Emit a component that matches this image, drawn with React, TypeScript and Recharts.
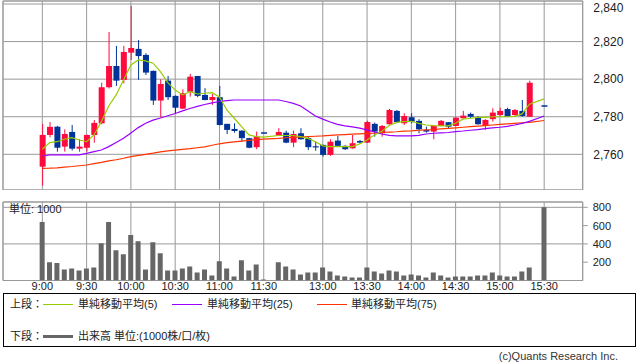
import React from 'react';
import {
  ComposedChart, Bar, Line, XAxis, YAxis, CartesianGrid, ReferenceArea,
} from 'recharts';

const FONT = '"Liberation Sans", "Noto Sans CJK JP", sans-serif';
const UP = '#ff0a3c';
const DOWN = '#003399';
const GRID = '#999999';

// 5-minute slots; the empty label is the lunch-break slot
const TIMES = [
  '9:00', '9:05', '9:10', '9:15', '9:20', '9:25', '9:30', '9:35', '9:40', '9:45',
  '9:50', '9:55', '10:00', '10:05', '10:10', '10:15', '10:20', '10:25', '10:30', '10:35',
  '10:40', '10:45', '10:50', '10:55', '11:00', '11:05', '11:10', '11:15', '11:20', '11:25',
  '11:30', '', '12:30', '12:35', '12:40', '12:45', '12:50', '12:55', '13:00', '13:05',
  '13:10', '13:15', '13:20', '13:25', '13:30', '13:35', '13:40', '13:45', '13:50', '13:55',
  '14:00', '14:05', '14:10', '14:15', '14:20', '14:25', '14:30', '14:35', '14:40', '14:45',
  '14:50', '14:55', '15:00', '15:05', '15:10', '15:15', '15:20', '15:25', '15:30',
];
const TICK_IDX = [0, 6, 12, 18, 24, 30, 38, 44, 50, 56, 62, 68];

const OPEN = [
  2753.4, 2770.3, 2774.7, 2764.1, 2771.9, 2763.0, 2763.5, 2770.3, 2776.5, 2795.7,
  2807.0, 2799.6, 2814.1, 2816.1, 2812.9, 2804.4, 2788.6, 2799.2, 2791.1, 2784.3,
  2793.3, 2801.7, 2791.6, 2788.9, 2790.4, 2776.2, 2773.5, 2772.6, 2768.6, 2763.8,
  2771.3, null, 2769.9, 2771.5, 2766.2, 2771.2, 2768.6, 2764.3, 2765.0, 2759.7,
  2767.3, 2764.5, 2763.2, 2767.1, 2766.2, 2776.2, 2771.2, 2776.0, 2783.1, 2776.5,
  2779.7, 2777.8, 2773.0, 2772.1, 2775.1, 2777.1, 2775.1, 2779.2, 2781.5, 2779.7,
  2775.1, 2778.7, 2780.9, 2784.1, 2780.9, 2783.1, 2780.0, null, 2785.7,
];
const HIGH = [
  2776.2, 2777.2, 2775.1, 2773.3, 2775.6, 2768.0, 2770.5, 2778.3, 2798.1, 2825.1,
  2817.7, 2817.7, 2839.0, 2820.8, 2813.8, 2804.6, 2799.9, 2801.7, 2791.3, 2794.6,
  2802.8, 2801.7, 2795.2, 2792.1, 2796.4, 2776.2, 2776.5, 2772.8, 2768.8, 2772.1,
  2771.3, null, 2773.9, 2772.6, 2772.6, 2773.9, 2769.4, 2766.7, 2765.2, 2768.0,
  2769.8, 2764.8, 2770.3, 2767.6, 2777.9, 2776.9, 2775.6, 2784.1, 2783.6, 2781.9,
  2781.9, 2778.7, 2774.7, 2775.2, 2778.3, 2777.2, 2779.7, 2783.1, 2782.2, 2780.4,
  2778.7, 2784.5, 2784.8, 2784.8, 2784.1, 2788.9, 2799.2, null, 2785.7,
];
const LOW = [
  2743.3, 2769.0, 2761.4, 2761.4, 2762.0, 2761.4, 2761.4, 2766.2, 2776.0, 2795.0,
  2796.4, 2797.8, 2810.2, 2799.6, 2802.2, 2786.3, 2779.7, 2788.9, 2781.9, 2784.0,
  2790.7, 2790.4, 2788.7, 2786.3, 2775.4, 2770.8, 2771.5, 2766.7, 2763.2, 2762.7,
  2771.3, null, 2769.7, 2765.9, 2763.8, 2767.8, 2762.3, 2761.9, 2758.8, 2759.2,
  2764.3, 2762.3, 2763.0, 2765.7, 2766.0, 2769.4, 2769.4, 2775.8, 2776.5, 2775.6,
  2776.5, 2771.2, 2771.5, 2768.0, 2775.0, 2773.9, 2775.0, 2779.0, 2779.2, 2775.8,
  2773.0, 2777.4, 2780.4, 2779.9, 2780.4, 2780.0, 2779.9, null, 2785.7,
];
const CLOSE = [
  2770.3, 2774.6, 2763.5, 2770.8, 2763.0, 2764.1, 2770.3, 2776.7, 2795.7, 2807.0,
  2799.2, 2814.5, 2816.6, 2812.3, 2803.5, 2788.6, 2797.4, 2790.4, 2784.8, 2792.5,
  2801.3, 2791.1, 2788.9, 2790.5, 2775.6, 2773.0, 2772.4, 2768.6, 2763.5, 2769.4,
  2771.3, null, 2771.9, 2766.2, 2770.8, 2768.0, 2763.8, 2764.0, 2759.7, 2766.7,
  2764.5, 2762.7, 2765.9, 2766.2, 2777.2, 2772.1, 2775.1, 2783.6, 2777.1, 2780.4,
  2777.4, 2773.3, 2772.1, 2775.1, 2777.8, 2774.7, 2779.5, 2780.6, 2780.0, 2776.0,
  2778.3, 2782.2, 2783.1, 2780.0, 2783.6, 2780.4, 2798.1, null, 2785.7,
];

const MA5 = [
  2762.7, 2766.2, 2766.7, 2768.0, 2768.9, 2767.6, 2766.7, 2770.3, 2777.4, 2785.7,
  2791.6, 2799.6, 2807.6, 2810.2, 2809.7, 2808.5, 2804.0, 2798.1, 2794.2, 2791.6,
  2793.3, 2792.1, 2792.5, 2792.8, 2790.5, 2783.6, 2779.2, 2774.7, 2770.3, 2769.4,
  2769.1, null, 2770.0, 2770.0, 2770.0, 2769.4, 2768.5, 2766.7, 2764.5, 2764.1,
  2764.1, 2764.1, 2764.1, 2765.5, 2767.6, 2770.3, 2772.3, 2775.3, 2777.0, 2777.4,
  2777.6, 2776.5, 2775.6, 2775.3, 2775.1, 2775.1, 2776.5, 2778.7, 2779.2, 2779.7,
  2779.7, 2780.0, 2780.0, 2780.0, 2780.2, 2781.5, 2786.7, null, 2789.5,
];
const MA25 = [
  2759.1, 2759.7, 2759.7, 2759.7, 2759.7, 2759.7, 2760.5, 2761.4, 2762.3, 2764.1,
  2766.3, 2768.6, 2771.4, 2774.2, 2776.5, 2778.2, 2779.3, 2780.5, 2781.7, 2783.1,
  2784.4, 2785.5, 2786.5, 2787.4, 2788.1, 2788.6, 2788.9, 2788.9, 2788.9, 2788.9,
  2788.9, null, 2788.9, 2788.1, 2787.1, 2785.7, 2783.1, 2780.4, 2778.7, 2777.2,
  2775.9, 2775.1, 2774.6, 2773.9, 2773.0, 2771.9, 2770.8, 2770.1, 2769.8, 2769.8,
  2769.8, 2770.1, 2770.8, 2771.2, 2771.4, 2771.6, 2772.1, 2772.4, 2772.8, 2773.1,
  2773.7, 2774.1, 2774.4, 2774.9, 2775.6, 2776.5, 2777.5, null, 2780.4,
];
const MA75 = [
  2752.5, 2752.6, 2752.8, 2753.2, 2753.5, 2753.9, 2754.3, 2755.0, 2755.7, 2756.5,
  2757.1, 2757.9, 2758.8, 2759.4, 2760.0, 2760.6, 2761.3, 2761.8, 2762.2, 2762.6,
  2763.0, 2763.5, 2764.0, 2764.8, 2765.6, 2766.2, 2766.6, 2767.0, 2767.4, 2767.8,
  2768.1, null, 2768.5, 2768.8, 2769.0, 2769.2, 2769.4, 2769.6, 2769.8, 2770.1,
  2770.3, 2770.5, 2770.7, 2770.9, 2771.1, 2771.3, 2771.6, 2771.8, 2772.0, 2772.3,
  2772.5, 2772.8, 2773.0, 2773.2, 2773.5, 2773.8, 2774.1, 2774.4, 2774.7, 2775.0,
  2775.3, 2775.6, 2775.9, 2776.2, 2776.5, 2776.8, 2777.0, null, 2778.0,
];

// volume, in 1000 shares
const VOLUME = [
  640, 199, 191, 121, 132, 110, 132, 143, 408, 640,
  331, 287, 496, 430, 121, 419, 298, 110, 110, 132,
  154, 88, 121, 55, 210, 132, 44, 221, 110, 176,
  10, null, 199, 154, 121, 66, 88, 88, 143, 99,
  55, 44, 33, 33, 143, 99, 77, 110, 99, 55,
  66, 55, 33, 88, 55, 33, 44, 44, 44, 55,
  55, 88, 55, 44, 44, 99, 143, null, 800,
];

const PRICE_TICKS = [2760, 2780, 2800, 2820, 2840];
const VOL_TICKS = [200, 400, 600, 800];
const P_MIN = 2741;
const P_MAX = 2841.6;
const V_MAX = 858;
const X_MIN = -5.33;
const X_MAX = 73.22;

const rows = TIMES.map((time, i) => ({
  idx: i,
  time,
  open: OPEN[i],
  high: HIGH[i],
  low: LOW[i],
  close: CLOSE[i],
  range: OPEN[i] == null ? null : [LOW[i], HIGH[i]],
  ma5: MA5[i],
  ma25: MA25[i],
  ma75: MA75[i],
  vol: VOLUME[i],
}));

const Candle = (props: any) => {
  const { x, y, width, height, payload } = props;
  if (!payload || payload.open == null) return null;
  const { open, close, high, low } = payload;
  const cx = x + width / 2;
  const span = high - low;
  const toY = (v: number) => (span === 0 ? y : y + ((high - v) / span) * height);
  if (span === 0) {
    return <line x1={x} x2={x + width} y1={y} y2={y} stroke={DOWN} strokeWidth={1.5} />;
  }
  const color = close > open ? UP : DOWN;
  const top = toY(Math.max(open, close));
  const bottom = toY(Math.min(open, close));
  return (
    <g>
      <line x1={cx} x2={cx} y1={toY(high)} y2={toY(low)} stroke={color} strokeWidth={1} />
      <rect x={x} y={top} width={width} height={Math.max(bottom - top, 1.2)} fill={color} />
    </g>
  );
};

const tickStyle = { fontSize: 11, fill: '#222', fontFamily: FONT };

function LegendLine({ left, color, thick }: { left: number; color: string; thick?: boolean }) {
  return (
    <div style={{
      position: 'absolute', left, width: 30, top: thick ? -1.5 : -0.5,
      height: thick ? 3 : 1, background: color,
    }} />
  );
}

export default function App() {
  return (
    <div style={{
      position: 'absolute', left: 0, top: 0, width: 638, height: 362,
      background: '#fff', fontFamily: FONT, color: '#222', overflow: 'hidden',
    }}>
      <div style={{ position: 'absolute', left: 0, top: 0 }}>
        <ComposedChart width={638} height={190} data={rows} margin={{ top: 1, right: 0, bottom: 0, left: 3 }}>
          <CartesianGrid stroke={GRID} />
          <XAxis dataKey="idx" type="number" domain={[X_MIN, X_MAX]} ticks={TICK_IDX} hide allowDataOverflow />
          <YAxis
            orientation="right" domain={[P_MIN, P_MAX]} ticks={PRICE_TICKS} width={55.3}
            axisLine={false} tickLine={false} tickSize={4} tickMargin={6.6} allowDataOverflow
            tickFormatter={(v: number) => v.toLocaleString('en-US')} tick={{ ...tickStyle, fontSize: 12 }}
          />
          <Bar dataKey="range" barSize={6} shape={(p: any) => <Candle {...p} />} isAnimationActive={false} />
          <Line dataKey="ma75" stroke="#ff3300" strokeWidth={1.2} dot={false} connectNulls isAnimationActive={false} />
          <Line dataKey="ma25" stroke="#9900ff" strokeWidth={1.2} dot={false} connectNulls isAnimationActive={false} />
          <Line dataKey="ma5" stroke="#99cc00" strokeWidth={1.2} dot={false} connectNulls isAnimationActive={false} />
          <ReferenceArea x1={X_MIN} x2={X_MAX} y1={P_MIN} y2={P_MAX} fill="none" stroke={GRID} />
        </ComposedChart>
      </div>

      <div style={{ position: 'absolute', left: 0, top: 190 }}>
        <ComposedChart width={638} height={115} data={rows} margin={{ top: 12, right: 0, bottom: 4.5, left: 3 }}>
          <CartesianGrid stroke={GRID} />
          <XAxis
            dataKey="idx" type="number" domain={[X_MIN, X_MAX]} ticks={TICK_IDX} height={20}
            axisLine={false} tickLine={false} tickSize={2} tickMargin={0} interval={0} allowDataOverflow
            tickFormatter={(i: number) => TIMES[i]} tick={tickStyle}
          />
          <YAxis
            orientation="right" domain={[0, V_MAX]} ticks={VOL_TICKS} width={55.3}
            axisLine={false} tickLine={{ stroke: GRID }} tickSize={5} tickMargin={5} allowDataOverflow
            tick={tickStyle}
          />
          <Bar dataKey="vol" barSize={5} fill="#666666" isAnimationActive={false} />
          <ReferenceArea x1={X_MIN} x2={X_MAX} y1={0} y2={V_MAX} fill="none" stroke={GRID} />
        </ComposedChart>
      </div>

      <div style={{ position: 'absolute', left: 9, top: 202, fontSize: 11, lineHeight: '14px' }}>単位: 1000</div>

      <div style={{
        position: 'absolute', left: 3, top: 293, width: 633, height: 54,
        border: '1px solid #000', boxSizing: 'border-box', fontSize: 11,
      }}>
        <div style={{ position: 'absolute', left: 0, top: 10, width: '100%' }}>
          <span style={{ position: 'absolute', left: 6, top: -8, lineHeight: '16px' }}>上段：</span>
          <LegendLine left={39} color="#99cc00" />
          <span style={{ position: 'absolute', left: 74, top: -8, lineHeight: '16px', whiteSpace: 'nowrap' }}>単純移動平均(5)</span>
          <LegendLine left={168} color="#9900ff" />
          <span style={{ position: 'absolute', left: 203, top: -8, lineHeight: '16px', whiteSpace: 'nowrap' }}>単純移動平均(25)</span>
          <LegendLine left={313} color="#ff3300" />
          <span style={{ position: 'absolute', left: 347, top: -8, lineHeight: '16px', whiteSpace: 'nowrap' }}>単純移動平均(75)</span>
        </div>
        <div style={{ position: 'absolute', left: 0, top: 42, width: '100%' }}>
          <span style={{ position: 'absolute', left: 6, top: -8, lineHeight: '16px' }}>下段：</span>
          <LegendLine left={39} color="#666666" thick />
          <span style={{ position: 'absolute', left: 74, top: -8, lineHeight: '16px', whiteSpace: 'nowrap' }}>出来高 単位:(1000株/口/枚)</span>
        </div>
      </div>

      <div style={{
        position: 'absolute', right: 20, top: 349, fontSize: 11, lineHeight: '14px', color: '#333',
      }}>(c)Quants Research Inc.</div>
    </div>
  );
}
